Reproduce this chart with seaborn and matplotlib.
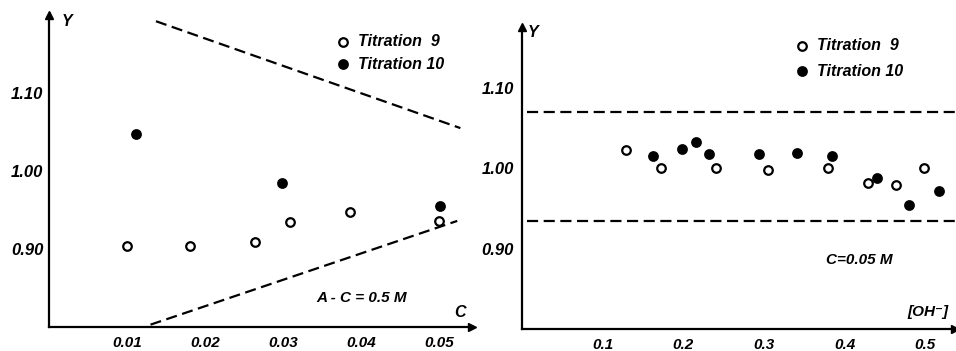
import numpy as np
import pandas as pd
import matplotlib
matplotlib.use('Agg')
import matplotlib.pyplot as plt
import seaborn as sns

# left panel: Y vs C  (A - C = 0.5 M)
c_t9 = [0.0100, 0.0181, 0.0264, 0.0309, 0.0386, 0.0500]
y_c_t9 = [0.904, 0.904, 0.909, 0.934, 0.947, 0.936]
c_t10 = [0.0111, 0.0299, 0.0501]
y_c_t10 = [1.048, 0.985, 0.955]
upper_c = [0.0137, 0.0527]
upper_y = [1.192, 1.055]
lower_c = [0.0130, 0.0523]
lower_y = [0.803, 0.936]

# right panel: Y vs [OH-]  (C = 0.05 M)
oh_t9 = [0.129, 0.172, 0.240, 0.305, 0.379, 0.429, 0.464, 0.499]
y_oh_t9 = [1.023, 1.000, 1.000, 0.998, 1.000, 0.982, 0.979, 1.000]
oh_t10 = [0.162, 0.199, 0.216, 0.232, 0.294, 0.341, 0.385, 0.440, 0.480, 0.517]
y_oh_t10 = [1.015, 1.024, 1.033, 1.018, 1.018, 1.019, 1.015, 0.988, 0.954, 0.971]
band_oh = [1.070, 0.934]

x_ticks_left = [0.01, 0.02, 0.03, 0.04, 0.05]
x_ticks_right = [0.1, 0.2, 0.3, 0.4, 0.5]
y_ticks = [0.90, 1.00, 1.10]

sns.set_style('white')
plt.rcParams['font.family'] = ['Liberation Sans', 'DejaVu Sans']
plt.rcParams['font.style'] = 'italic'
plt.rcParams['font.weight'] = 'bold'
plt.rcParams['text.color'] = 'black'
plt.rcParams['xtick.color'] = 'black'
plt.rcParams['ytick.color'] = 'black'

fig = plt.figure(figsize=(9.56, 3.51), dpi=100)
ax1 = fig.add_axes([0.0513, 0.0684, 0.4425, 0.8889])
ax2 = fig.add_axes([0.546, 0.0627, 0.453, 0.861])


def style_axes(ax, xticks, xfmt, ypad):
    for s in ['top', 'right']:
        ax.spines[s].set_visible(False)
    for s in ['left', 'bottom']:
        ax.spines[s].set_linewidth(1.6)
        ax.spines[s].set_color('black')
    ax.set_xticks(xticks)
    ax.set_xticklabels([xfmt.format(t) for t in xticks])
    ax.set_yticks(y_ticks)
    ax.set_yticklabels(['{:.2f}'.format(t) for t in y_ticks])
    ax.tick_params(axis='x', direction='in', length=10, width=1.5, pad=6.5, labelsize=11)
    ax.tick_params(axis='y', direction='in', length=11, width=1.5, pad=ypad, labelsize=12)
    ax.set_xlabel('')
    ax.set_ylabel('')
    # arrow heads on the axes
    ax.plot(1, 0, '>', color='black', ms=6, transform=ax.transAxes, clip_on=False)
    ax.plot(0, 1, '^', color='black', ms=6, transform=ax.transAxes, clip_on=False)


def points(ax, x, y, filled, label):
    sns.scatterplot(x=x, y=y, ax=ax, s=38, marker='o',
                    facecolor='black' if filled else 'white',
                    edgecolor='black', linewidth=1.6, label=label, zorder=3)


# ---- left
dash = (0, (5, 2.5))
sns.lineplot(x=upper_c, y=upper_y, ax=ax1, color='black', lw=1.6, linestyle=dash)
sns.lineplot(x=lower_c, y=lower_y, ax=ax1, color='black', lw=1.6, linestyle=dash)
points(ax1, c_t9, y_c_t9, False, 'Titration  9')
points(ax1, c_t10, y_c_t10, True, 'Titration 10')
ax1.set_xlim(0, 0.0542)
ax1.set_ylim(0.80, 1.20)
style_axes(ax1, x_ticks_left, '{:.2f}', 4)
ax1.legend(loc='upper left', bbox_to_anchor=(0.680, 0.939), frameon=False,
           fontsize=11.5, handlelength=0.8, handletextpad=0.52,
           borderaxespad=0, borderpad=0, labelspacing=0.47)
ax1.text(0.0023, 1.192, 'Y', fontsize=11.5, ha='center', va='center')
ax1.text(0.0527, 0.818, 'C', fontsize=11.5, ha='center', va='center')
ax1.text(0.0400, 0.837, 'A - C = 0.5 M', fontsize=11, ha='center', va='center')

# ---- right
for b in band_oh:
    ax2.axhline(b, xmin=0.012, color='black', lw=1.6, linestyle=dash)
points(ax2, oh_t9, y_oh_t9, False, 'Titration  9')
points(ax2, oh_t10, y_oh_t10, True, 'Titration 10')
ax2.set_xlim(0, 0.537)
ax2.set_ylim(0.80, 1.1756)
style_axes(ax2, x_ticks_right, '{:.1f}', 6)
ax2.legend(loc='upper left', bbox_to_anchor=(0.633, 0.963), frameon=False,
           fontsize=11.5, handlelength=0.8, handletextpad=0.48,
           borderaxespad=0, borderpad=0, labelspacing=0.66)
ax2.text(0.0136, 1.168, 'Y', fontsize=11.5, ha='center', va='center')
ax2.text(0.504, 0.821, '[OH\u207b]', fontsize=11, ha='center', va='center')
ax2.text(0.418, 0.886, 'C=0.05 M', fontsize=11, ha='center', va='center')

fig.savefig('out.png', dpi=100)
